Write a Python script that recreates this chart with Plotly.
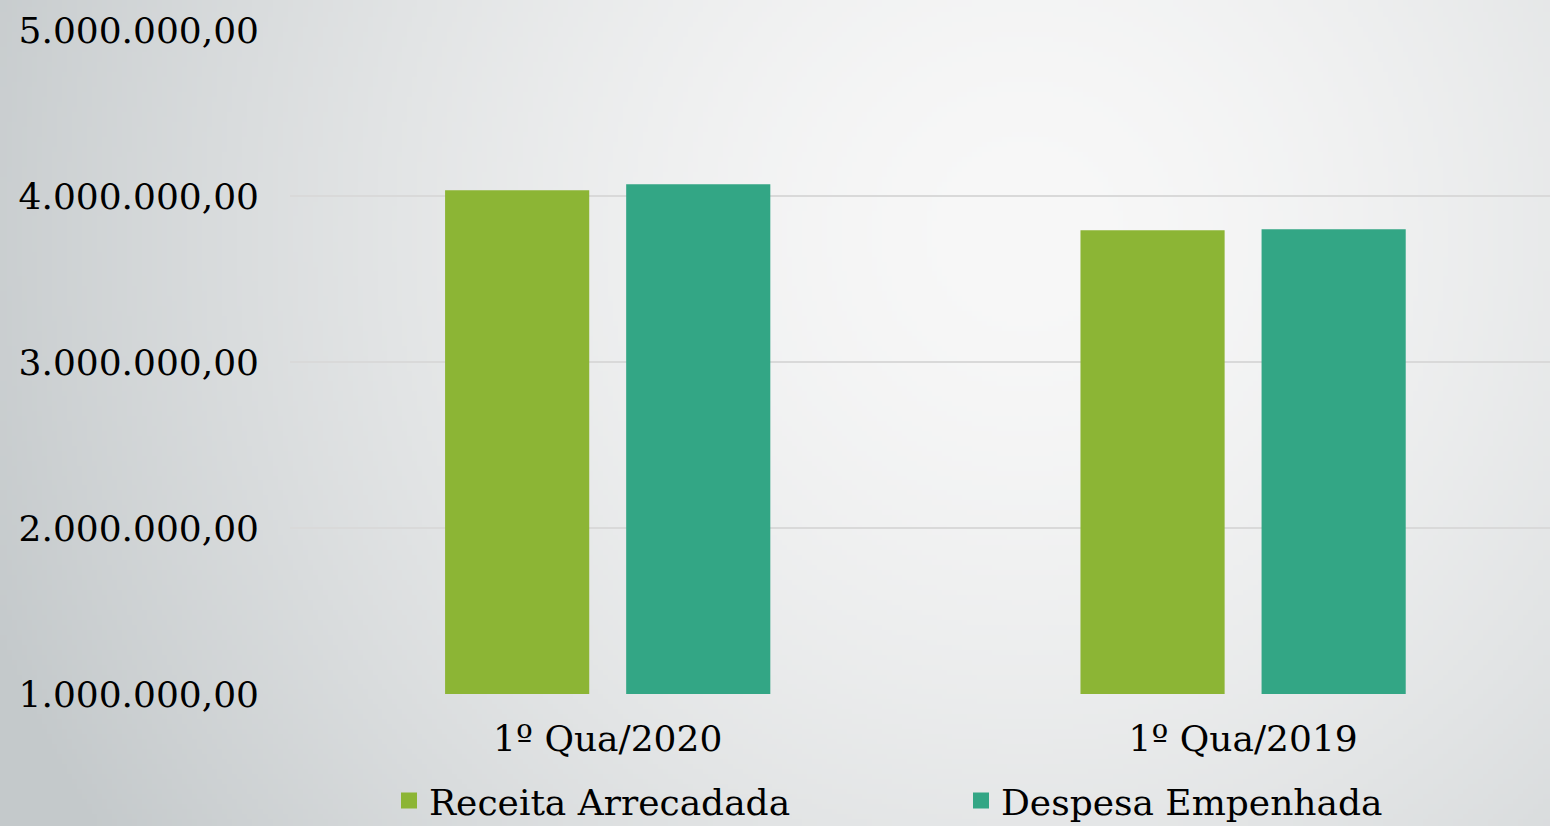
import base64, struct, zlib
import numpy as np
import plotly.graph_objects as go

categories = ["1º Qua/2020", "1º Qua/2019"]
receita = [4034000, 3793000]
despesa = [4071000, 3799000]
tick_vals = [1000000, 2000000, 3000000, 4000000, 5000000]
tick_text = ["1.000.000,00", "2.000.000,00", "3.000.000,00", "4.000.000,00", "5.000.000,00"]

W, H = 1550, 826
ML, MR, MT, MB = 290, 0, 30, 132
PW, PH = W - ML - MR, H - MT - MB


# radial gradient background as a small PNG
def make_bg(w=310, h=166):
    yy, xx = np.mgrid[0:h, 0:w]
    cx, cy = w * 0.66, h * 0.28
    d = np.sqrt(((xx - cx) / w) ** 2 + ((yy - cy) / h * (h / w)) ** 2)
    t = np.clip(d / 0.72, 0, 1) ** 1.6
    c0 = np.array([248, 248, 248])
    c1 = np.array([196, 201, 203])
    img = (c0[None, None, :] * (1 - t[..., None]) + c1[None, None, :] * t[..., None]).astype(np.uint8)
    raw = b"".join(b"\x00" + img[r].tobytes() for r in range(h))

    def chunk(tag, data):
        c = struct.pack(">I", len(data)) + tag + data
        return c + struct.pack(">I", zlib.crc32(tag + data) & 0xffffffff)

    png = b"\x89PNG\r\n\x1a\n" + chunk(b"IHDR", struct.pack(">IIBBBBB", w, h, 8, 2, 0, 0, 0)) \
        + chunk(b"IDAT", zlib.compress(raw, 9)) + chunk(b"IEND", b"")
    return "data:image/png;base64," + base64.b64encode(png).decode()


GREEN = "#8cb535"
TEAL = "#33a685"
FONT = "DejaVu Serif"

fig = go.Figure()
fig.add_trace(go.Bar(x=categories, y=receita, name="Receita Arrecadada",
                     marker=dict(color=GREEN, line=dict(width=0)), showlegend=False))
fig.add_trace(go.Bar(x=categories, y=despesa, name="Despesa Empenhada",
                     marker=dict(color=TEAL, line=dict(width=0)), showlegend=False))
# legend proxies
fig.add_trace(go.Scatter(x=[None], y=[None], mode="markers", name="Receita Arrecadada",
                         marker=dict(symbol="square", size=20, color=GREEN)))
fig.add_trace(go.Scatter(x=[None], y=[None], mode="markers", name="Despesa Empenhada",
                         marker=dict(symbol="square", size=20, color=TEAL)))

fig.update_layout(
    width=W, height=H,
    margin=dict(l=ML, r=MR, t=MT, b=MB, autoexpand=False),
    paper_bgcolor="#e4e5e6",
    plot_bgcolor="rgba(0,0,0,0)",
    font=dict(family=FONT, size=36, color="#000000"),
    barmode="group", bargap=0.43, bargroupgap=0.204,
    showlegend=True,
    legend=dict(orientation="h", x=0.62, xanchor="center", xref="container",
                y=-0.1155, yanchor="top",
                entrywidth=527, entrywidthmode="pixels",
                font=dict(family=FONT, size=36, color="#000000"),
                itemsizing="trace", bgcolor="rgba(0,0,0,0)", tracegroupgap=0),
    images=[dict(source=make_bg(), xref="paper", yref="paper",
                 x=-ML / PW, y=1 + MT / PH, sizex=W / PW, sizey=H / PH,
                 xanchor="left", yanchor="top", sizing="stretch", layer="below")],
)
fig.update_xaxes(range=[-0.5, 1.483], showgrid=False, zeroline=False, showline=False,
                 ticks="", tickangle=0, tickfont=dict(family=FONT, size=36), ticklabelstandoff=20)
fig.update_yaxes(range=[1000000, 5000000], tickvals=tick_vals, ticktext=tick_text,
                 showgrid=True, gridcolor="#d9d9d9", gridwidth=2, zeroline=False,
                 showline=False, ticks="", ticklabelstandoff=30,
                 tickfont=dict(family=FONT, size=36))

fig.write_html("out.html", config={"displayModeBar": False},
               post_script="document.body.style.margin='0px';")
